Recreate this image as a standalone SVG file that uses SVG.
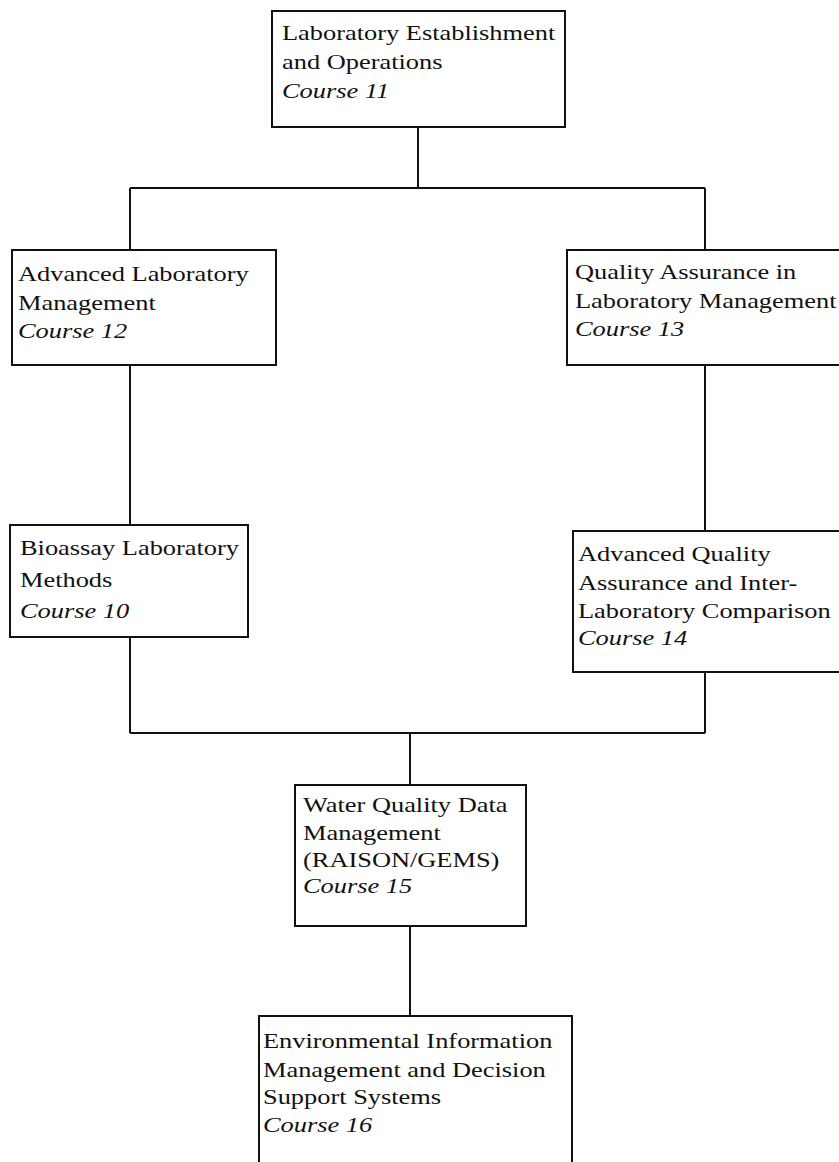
<svg xmlns="http://www.w3.org/2000/svg" width="839" height="1162" viewBox="0 0 839 1162">
  <style>
    .box { fill: #ffffff; stroke: #111111; stroke-width: 2; }
    .wire { fill: none; stroke: #111111; stroke-width: 2; }
    .label { font-family: "Liberation Serif", "Times New Roman", serif; font-size: 22px; fill: #111111; }
    .course { font-style: italic; }
  </style>
  <rect width="839" height="1162" fill="#ffffff"/>

  <!-- connectors -->
  <g id="connectors">
    <path class="wire" d="M418 127 V188"/>
    <path class="wire" d="M130 188 H705"/>
    <path class="wire" d="M130 188 V250"/>
    <path class="wire" d="M705 188 V250"/>
    <path class="wire" d="M130 365 V525"/>
    <path class="wire" d="M705 365 V531"/>
    <path class="wire" d="M130 637 V733"/>
    <path class="wire" d="M705 672 V733"/>
    <path class="wire" d="M130 733 H705"/>
    <path class="wire" d="M410 733 V785"/>
    <path class="wire" d="M410 926 V1016"/>
  </g>

  <!-- Course 11 -->
  <g id="course11">
    <rect class="box" x="272" y="11" width="293" height="116"/>
    <g class="label" transform="translate(282,0) scale(1.2,1)">
      <text x="0" y="40">Laboratory Establishment</text>
      <text x="0" y="69">and Operations</text>
      <text class="course" x="0" y="98">Course 11</text>
    </g>
  </g>

  <!-- Course 12 -->
  <g id="course12">
    <rect class="box" x="12" y="250" width="264" height="115"/>
    <g class="label" transform="translate(18,0) scale(1.2,1)">
      <text x="0" y="281">Advanced Laboratory</text>
      <text x="0" y="310">Management</text>
      <text class="course" x="0" y="338">Course 12</text>
    </g>
  </g>

  <!-- Course 13 -->
  <g id="course13">
    <rect class="box" x="567" y="250" width="290" height="115"/>
    <g class="label" transform="translate(575,0) scale(1.2,1)">
      <text x="0" y="279">Quality Assurance in</text>
      <text x="0" y="308">Laboratory Management</text>
      <text class="course" x="0" y="336">Course 13</text>
    </g>
  </g>

  <!-- Course 10 -->
  <g id="course10">
    <rect class="box" x="10" y="525" width="238" height="112"/>
    <g class="label" transform="translate(20,0) scale(1.2,1)">
      <text x="0" y="555">Bioassay Laboratory</text>
      <text x="0" y="587">Methods</text>
      <text class="course" x="0" y="618">Course 10</text>
    </g>
  </g>

  <!-- Course 14 -->
  <g id="course14">
    <rect class="box" x="573" y="531" width="290" height="141"/>
    <g class="label" transform="translate(578,0) scale(1.2,1)">
      <text x="0" y="561">Advanced Quality</text>
      <text x="0" y="590">Assurance and Inter-</text>
      <text x="0" y="618">Laboratory Comparison</text>
      <text class="course" x="0" y="645">Course 14</text>
    </g>
  </g>

  <!-- Course 15 -->
  <g id="course15">
    <rect class="box" x="295" y="785" width="231" height="141"/>
    <g class="label" transform="translate(303,0) scale(1.2,1)">
      <text x="0" y="812">Water Quality Data</text>
      <text x="0" y="840">Management</text>
      <text x="0" y="867">(RAISON/GEMS)</text>
      <text class="course" x="0" y="893">Course 15</text>
    </g>
  </g>

  <!-- Course 16 -->
  <g id="course16">
    <rect class="box" x="259" y="1016" width="313" height="160"/>
    <g class="label" transform="translate(263,0) scale(1.2,1)">
      <text x="0" y="1048">Environmental Information</text>
      <text x="0" y="1077">Management and Decision</text>
      <text x="0" y="1104">Support Systems</text>
      <text class="course" x="0" y="1132">Course 16</text>
    </g>
  </g>
</svg>
